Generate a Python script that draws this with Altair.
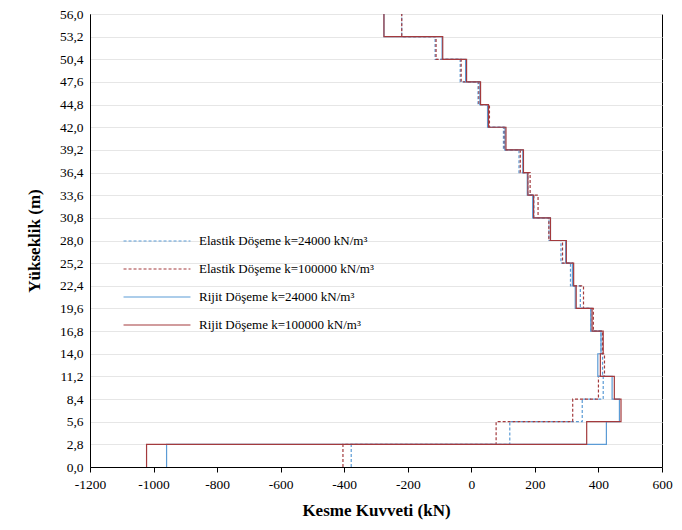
import altair as alt
import pandas as pd

# storey boundaries (m)
storey_bottom = [0.0, 2.8, 5.6, 8.4, 11.2, 14.0, 16.8, 19.6, 22.4, 25.2,
                 28.0, 30.8, 33.6, 36.4, 39.2, 42.0, 44.8, 47.6, 50.4, 53.2]
storey_top = [2.8, 5.6, 8.4, 11.2, 14.0, 16.8, 19.6, 22.4, 25.2, 28.0,
              30.8, 33.6, 36.4, 39.2, 42.0, 44.8, 47.6, 50.4, 53.2, 56.0]

series_names = [
    "Elastik Döşeme k=24000 kN/m³",
    "Elastik Döşeme k=100000 kN/m³",
    "Rijit Döşeme k=24000 kN/m³",
    "Rijit Döşeme k=100000 kN/m³",
]
elastik_24000 = [-378, 121, 349, 415, 413, 408, 376, 343, 312, 282,
                 244, 197, 178, 150, 101, 53, 21, -35, -114, -219]
elastik_100000 = [-404, 78, 319, 400, 419, 413, 384, 353, 319, 287,
                  244, 210, 185, 154, 104, 57, 24, -32, -111, -219]
rijit_24000 = [-959, 425, 466, 443, 398, 408, 376, 327, 318, 297,
               249, 193, 176, 162, 106, 51, 27, -18, -92, -275]
rijit_100000 = [-1022, 363, 471, 450, 406, 415, 380, 330, 322, 299,
                249, 196, 178, 164, 109, 54, 29, -15, -90, -275]

colors = ["#5B9BD5", "#A33A3D", "#5B9BD5", "#A33A3D"]
dashes = [[3, 2], [3, 2], [1, 0], [1, 0]]
widths = [1.2, 1.2, 1.6, 1.6]

y_ticks = [round(2.8 * i, 1) for i in range(21)]
x_ticks = list(range(-1200, 601, 200))

rows = []
for name, vals in zip(series_names, [elastik_24000, elastik_100000, rijit_24000, rijit_100000]):
    k = 0
    for v, b, t in zip(vals, storey_bottom, storey_top):
        rows.append({"seri": name, "kuvvet": v, "h": b, "o": k}); k += 1
        rows.append({"seri": name, "kuvvet": v, "h": t, "o": k}); k += 1
df = pd.DataFrame(rows)

font = "'Liberation Serif', 'Times New Roman', serif"

chart = alt.Chart(df).mark_line(clip=True).encode(
    x=alt.X("kuvvet:Q",
            scale=alt.Scale(domain=[-1200, 600], nice=False, zero=False),
            axis=alt.Axis(values=x_ticks, title="Kesme Kuvveti (kN)", grid=False,
                          labelExpr="'' + datum.value", labelFlush=False,
                          tickSize=5, tickColor="black", domainColor="black",
                          labelFont=font, labelFontSize=13.5, labelColor="black",
                          titleFont=font, titleFontSize=17, titleFontWeight="bold",
                          titleColor="black", titlePadding=12, labelPadding=5)),
    y=alt.Y("h:Q",
            scale=alt.Scale(domain=[0, 56], nice=False, zero=False),
            axis=alt.Axis(values=y_ticks, title="Yükseklik (m)",
                          labelExpr="replace(format(datum.value, '.1f'), '.', ',')",
                          grid=True, gridColor="#E6E6E6", ticks=False,
                          domainColor="black", labelFlush=False,
                          labelFont=font, labelFontSize=13.5, labelColor="black",
                          titleFont=font, titleFontSize=17, titleFontWeight="bold",
                          titleColor="black", titlePadding=16, labelPadding=7)),
    color=alt.Color("seri:N",
                    scale=alt.Scale(domain=series_names, range=colors),
                    legend=alt.Legend(orient="none", legendX=58, legendY=218,
                                      title=None, symbolType="M-4,0H4",
                                      symbolSize=280, symbolStrokeWidth=1.3,
                                      symbolFillColor="transparent",
                                      labelFont=font, labelFontSize=13,
                                      labelColor="black", labelOffset=33,
                                      rowPadding=12, labelLimit=400)),
    strokeDash=alt.StrokeDash("seri:N",
                              scale=alt.Scale(domain=series_names, range=dashes),
                              legend=None),
    strokeWidth=alt.StrokeWidth("seri:N",
                                scale=alt.Scale(domain=series_names, range=widths),
                                legend=None),
    order="o:Q",
).properties(
    width=572, height=453,
    autosize=alt.AutoSizeParams(type="none"),
    padding={"left": 82, "top": 6, "right": 12, "bottom": 55},
).configure_view(stroke="black", strokeWidth=1)

chart.save("out.html", embed_options={"renderer": "svg", "actions": False})
